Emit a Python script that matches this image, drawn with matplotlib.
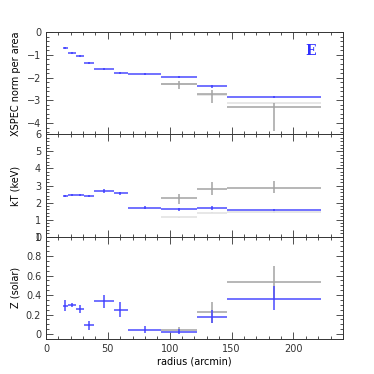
import matplotlib
matplotlib.use("Agg")
import matplotlib.pyplot as plt
from matplotlib.ticker import MultipleLocator
import numpy as np

# bins (arcmin)
r_lo = [13.5, 17.5, 24, 31, 39, 55, 66, 93, 122, 146]
r_hi = [17.5, 24, 31, 39, 55, 66, 93, 122, 146, 222]
r_mid = [15.5, 21, 27.5, 35, 47, 60, 80, 107.5, 134, 184]

# XSPEC norm per area (log)
norm_blue = [-0.69, -0.90, -1.07, -1.34, -1.60, -1.78, -1.85, -1.97, -2.39, -2.85]
norm_blue_err = [0.02, 0.02, 0.02, 0.02, 0.02, 0.02, 0.02, 0.03, 0.05, 0.05]
norm_gray = [-2.29, -2.73, -3.29]
norm_gray_lo = [0.19, 0.41, 1.06]
norm_gray_hi = [0.14, 0.17, 0.19]
norm_light = [-2.30, -2.75, -3.14]
norm_light_err = [0.03, 0.03, 0.03]

# kT (keV)
kt_blue = [2.41, 2.47, 2.43, 2.39, 2.66, 2.54, 1.70, 1.60, 1.68, 1.58]
kt_blue_err = [0.05, 0.04, 0.04, 0.08, 0.12, 0.10, 0.07, 0.07, 0.11, 0.05]
kt_gray = [2.29, 2.80, 2.86]
kt_gray_lo = [0.36, 0.35, 0.32]
kt_gray_hi = [0.21, 0.38, 0.38]
kt_light = [1.14, 1.40, 1.45]
kt_light_err = [0.04, 0.04, 0.04]

# Z (solar)
z_blue = [0.29, 0.295, 0.255, 0.09, 0.335, 0.25, 0.045, 0.025, 0.17, 0.355]
z_blue_lo = [0.05, 0.02, 0.04, 0.045, 0.065, 0.075, 0.03, 0.025, 0.06, 0.11]
z_blue_hi = [0.055, 0.025, 0.04, 0.045, 0.07, 0.08, 0.035, 0.03, 0.075, 0.14]
z_gray = [0.04, 0.225, 0.53]
z_gray_lo = [0.03, 0.115, 0.18]
z_gray_hi = [0.035, 0.105, 0.17]

BLUE = '#4a4aff'
GRAY = '#a3a3a3'
LIGHT = '#e0e0e0'

plt.rcParams['font.family'] = 'DejaVu Sans'
fig = plt.figure(figsize=(3.74, 3.74), dpi=100)
gs = fig.add_gridspec(3, 1, left=0.123, right=0.917, top=0.914, bottom=0.094, hspace=0)
axes = [fig.add_subplot(gs[i]) for i in range(3)]

rm = np.array(r_mid)
xerr = [rm - np.array(r_lo), np.array(r_hi) - rm]
rm_g = rm[7:]
xerr_g = [xerr[0][7:], xerr[1][7:]]

def eb(ax, x, y, xe, ye, color, lw=1.1, ms=2.0, z=2, marker='s'):
    ax.errorbar(x, y, xerr=xe, yerr=ye, fmt=marker, ms=ms, color=color,
                ecolor=color, elinewidth=lw, capsize=1.5, capthick=lw * 0.8,
                mew=0, zorder=z)

ax = axes[0]
eb(ax, rm_g, norm_light, xerr_g, norm_light_err, LIGHT, z=1, marker='none')
eb(ax, rm_g, norm_gray, xerr_g, [norm_gray_lo, norm_gray_hi], GRAY, z=2, marker='none')
eb(ax, rm, norm_blue, xerr, norm_blue_err, BLUE, z=3)
ax.set_ylim(-4.5, 0)
ax.yaxis.set_minor_locator(MultipleLocator(0.2))
ax.set_yticks([0, -1, -2, -3, -4])
ax.set_ylabel('XSPEC norm per area', fontsize=7)
ax.text(214, -0.85, 'E', color='#3030ff', fontsize=10, fontweight='bold',
        family='DejaVu Serif', ha='center', va='center')

ax = axes[1]
eb(ax, rm_g, kt_light, xerr_g, kt_light_err, LIGHT, z=1, marker='none')
eb(ax, rm_g, kt_gray, xerr_g, [kt_gray_lo, kt_gray_hi], GRAY, z=2, marker='none')
eb(ax, rm, kt_blue, xerr, kt_blue_err, BLUE, z=3)
ax.set_ylim(0, 6)
ax.set_yticks([0, 1, 2, 3, 4, 5, 6])
ax.yaxis.set_minor_locator(MultipleLocator(0.2))
ax.set_ylabel('kT (keV)', fontsize=7)

ax = axes[2]
eb(ax, rm_g, z_gray, xerr_g, [z_gray_lo, z_gray_hi], GRAY, z=2, marker='none')
eb(ax, rm, z_blue, xerr, [z_blue_lo, z_blue_hi], BLUE, z=3)
ax.set_ylim(-0.05, 1.0)
ax.set_yticks([0, 0.2, 0.4, 0.6, 0.8, 1])
ax.set_yticklabels(['0', '0.2', '0.4', '0.6', '0.8', '1'])
ax.yaxis.set_minor_locator(MultipleLocator(0.05))
ax.set_ylabel('Z (solar)', fontsize=7)
ax.set_xlabel('radius (arcmin)', fontsize=7, labelpad=2)

for i, a in enumerate(axes):
    a.set_xlim(0, 240)
    a.xaxis.set_major_locator(MultipleLocator(50))
    a.xaxis.set_minor_locator(MultipleLocator(10))
    a.tick_params(which='both', direction='in', top=True, right=True,
                  labelsize=7, colors='#333333', width=0.6)
    a.tick_params(which='major', length=5)
    a.tick_params(which='minor', length=2.5)
    for s in a.spines.values():
        s.set_linewidth(0.7)
        s.set_color('#333333')
    if i < 2:
        a.tick_params(labelbottom=False)
    a.yaxis.set_label_coords(-0.085, 0.5)

fig.savefig('out.png', dpi=100)
